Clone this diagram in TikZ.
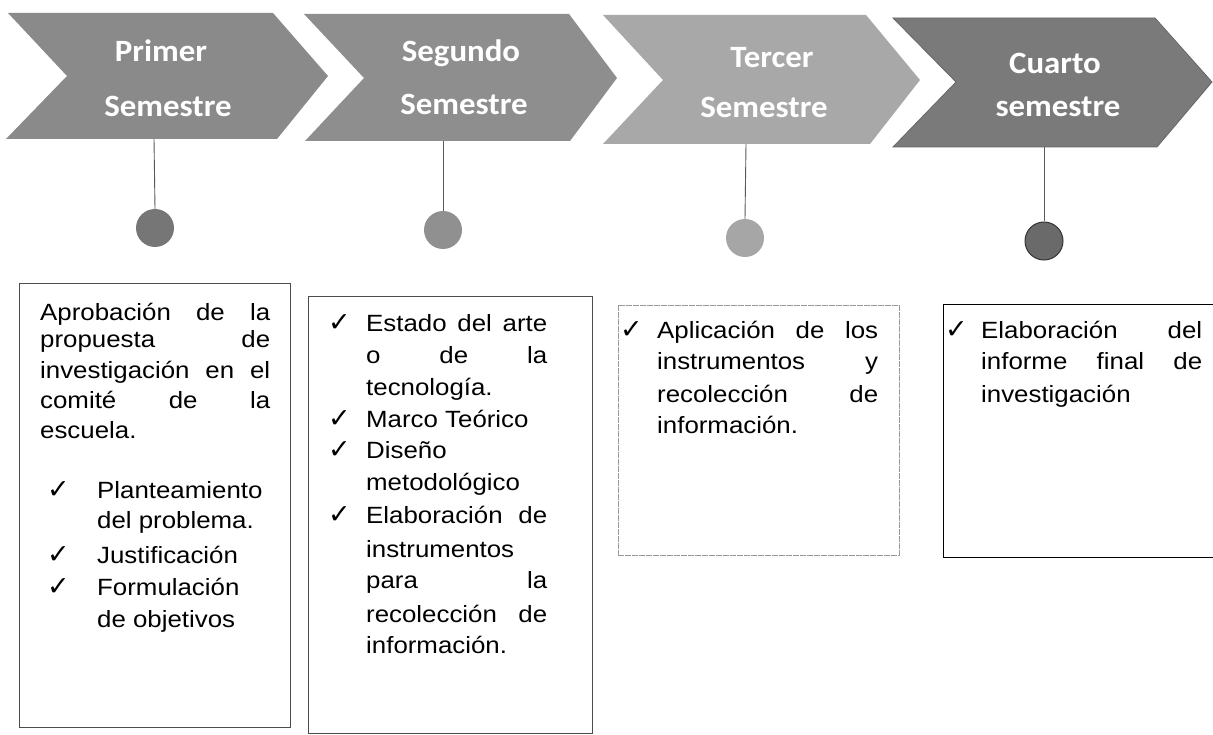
\documentclass[tikz,border=0pt]{standalone}
\usepackage{fontspec}
\setmainfont{Liberation Sans}[FakeStretch=1.1]
\newfontfamily\chevfont{Carlito}[FakeStretch=1.06]
\newfontfamily\symfont{DejaVu Sans}
\definecolor{chA}{HTML}{8A8A8A}
\definecolor{chB}{HTML}{8E8E8E}
\definecolor{chC}{HTML}{A8A8A8}
\definecolor{chD}{HTML}{7A7A7A}
\definecolor{dotA}{HTML}{767676}
\definecolor{dotB}{HTML}{909090}
\definecolor{dotC}{HTML}{A6A6A6}
\definecolor{dotD}{HTML}{6A6A6A}
\newcommand\bline[4]{\node[bodytext] at (#1,#2) {\hbox to #3pt{#4}};}
\newcommand\chk[2]{\node[chkmark] at (#1,#2) {✓};}
\begin{document}
\begin{tikzpicture}[x=1pt,y=-1pt,
  chevtext/.style={text=white,font=\chevfont\bfseries\fontsize{31}{31}\selectfont,anchor=base,inner sep=0},
  bodytext/.style={anchor=base west,inner sep=0,font=\fontsize{23.5}{30}\selectfont},
  chkmark/.style={anchor=base west,inner sep=0,font=\symfont\fontsize{27}{27}\selectfont},
  boxA/.style={draw=black!70,line width=0.9pt,anchor=north west,inner sep=0},
  boxC/.style={draw=black!40,line width=0.8pt,dash pattern=on 6pt off 1pt,anchor=north west,inner sep=0},
  boxD/.style={draw=black,line width=1.4pt,anchor=north west,inner sep=0},
  dot/.style={circle,minimum size=38pt,inner sep=0},
  stem/.style={draw=black!65,line width=0.9pt}]
\useasboundingbox (0,0) rectangle (1213,735);
\fill[white] (0,0) rectangle (1213,735);

% chevrons
\fill[chA] (8,13) -- (273,13) -- (328,76) -- (277,139) -- (6,139) -- (67,76) -- cycle;
\fill[chB] (304,14) -- (569,14) -- (617,78) -- (570,141) -- (305,141) -- (364,78) -- cycle;
\fill[chC] (603,15) -- (866,15) -- (920,80) -- (870,144) -- (603,144) -- (663,80) -- cycle;
\filldraw[fill=chD,draw=black!60,line width=0.8pt] (893,18) -- (1155,18) -- (1212,82) -- (1157,147) -- (893,147) -- (956,82) -- cycle;

\node[chevtext] (t1a) at (161,62) {Primer};
\node[chevtext] (t1b) at (168,117) {Semestre};
\node[chevtext] (t2a) at (461,62) {Segundo};
\node[chevtext] (t2b) at (464,115) {Semestre};
\node[chevtext] (t3a) at (772,68) {Tercer};
\node[chevtext] (t3b) at (764,118) {Semestre};
\node[chevtext] (t4a) at (1055,74) {Cuarto};
\node[chevtext] (t4b) at (1058,117) {semestre};

% stems and dots
\coordinate (s1) at (154,139);
\coordinate (s2) at (443,141);
\coordinate (s3) at (746,144);
\coordinate (s4) at (1044,147);
\node[dot,fill=dotA] (c1) at (155,228) {};
\node[dot,fill=dotB] (c2) at (443,230) {};
\node[dot,fill=dotC] (c3) at (745,238) {};
\node[dot,fill=dotD,draw=black!80,line width=1pt] (c4) at (1044,241) {};
\draw[stem] (s1) -- (c1.north);
\draw[stem] (s2) -- (c2.north);
\draw[stem] (s3) -- (c3.north);
\draw[stem] (s4) -- (c4.north);

% boxes
\node[boxA,minimum width=271pt,minimum height=444pt] (b1) at (19,283) {};
\node[boxA,minimum width=284pt,minimum height=437pt] (b2) at (308,296) {};
\node[boxC,minimum width=281pt,minimum height=250pt] (b3) at (618,305) {};
\node[boxD,minimum width=274pt,minimum height=253pt] (b4) at (943,304) {};

% box 1 text
\bline{40}{320}{230}{Aprobación\hfill de\hfill la}
\bline{40}{348}{230}{propuesta\hfill de}
\bline{40}{378}{230}{investigación\hfill en\hfill el}
\bline{40}{408}{230}{comité\hfill de\hfill la}
\bline{40}{438}{230}{escuela.\hfil}
\chk{47}{498}\bline{97}{498}{173}{Planteamiento\hfil}
\bline{97}{528}{173}{del problema.\hfil}
\chk{47}{563}\bline{97}{563}{173}{Justificación\hfil}
\chk{47}{595}\bline{97}{595}{173}{Formulación\hfil}
\bline{97}{627}{173}{de objetivos\hfil}

% box 2 text
\chk{328}{332}\bline{366}{332}{181}{Estado\hfill del\hfill arte}
\bline{366}{363}{181}{o\hfill de\hfill la}
\bline{366}{395}{181}{tecnología.\hfil}
\chk{328}{427}\bline{366}{427}{181}{Marco Teórico\hfil}
\chk{328}{458}\bline{366}{458}{181}{Diseño\hfil}
\bline{366}{490}{181}{metodológico\hfil}
\chk{328}{523}\bline{366}{523}{181}{Elaboración\hfill de}
\bline{366}{557}{181}{instrumentos\hfil}
\bline{366}{588}{181}{para\hfill la}
\bline{366}{622}{181}{recolección\hfill de}
\bline{366}{653}{181}{información.\hfil}

% box 3 text
\chk{620}{338}\bline{657}{338}{221}{Aplicación\hfill de\hfill los}
\bline{657}{370}{221}{instrumentos\hfill y}
\bline{657}{402}{221}{recolección\hfill de}
\bline{657}{433}{221}{información.\hfil}

% box 4 text
\chk{945}{338}\bline{981}{338}{221}{Elaboración\hfill del}
\bline{981}{370}{221}{informe\hfill final\hfill de}
\bline{981}{402}{221}{investigación\hfil}
\end{tikzpicture}
\end{document}
